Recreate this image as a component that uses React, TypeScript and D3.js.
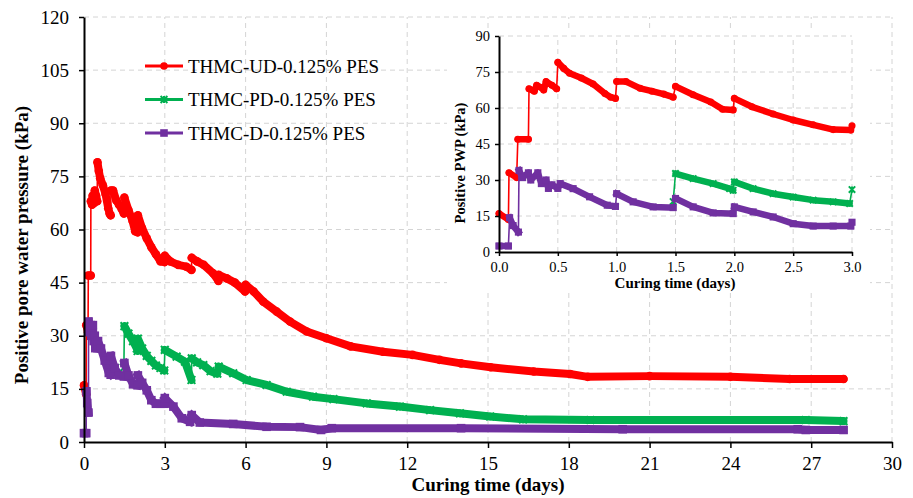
import React, { useEffect, useRef } from 'react';
import * as d3 from 'd3';

type Pt = [number, number];

// series names / colours / marker kinds
const seriesNames = ['THMC-UD-0.125% PES', 'THMC-PD-0.125% PES', 'THMC-D-0.125% PES'];
const seriesColors = ['#ff0000', '#00b050', '#7030a0'];
const seriesMarkers = ['circle', 'star', 'square'];

// tick labels
const mainXTicks = [0, 3, 6, 9, 12, 15, 18, 21, 24, 27, 30];
const mainYTicks = [0, 15, 30, 45, 60, 75, 90, 105, 120];
const insetXTicks = [0, 0.5, 1.0, 1.5, 2.0, 2.5, 3.0];
const insetYTicks = [0, 15, 30, 45, 60, 75, 90];

// each series is split where the reading jumps (thin line between pieces)
const udData: Pt[][] = [
  [[0, 16], [0.08, 13.5]],
  [[0.085, 33], [0.15, 31]],
  [[0.16, 47], [0.25, 47]],
  [[0.255, 68], [0.3, 67], [0.32, 69.5], [0.36, 68.5], [0.38, 67.5], [0.4, 71], [0.45, 69.5], [0.49, 68]],
  [[0.5, 79], [0.55, 76.5], [0.6, 74.5], [0.7, 72.5], [0.8, 70], [0.9, 66], [0.95, 64.5], [0.99, 64]],
  [[1.0, 71], [1.08, 71], [1.2, 68.2], [1.3, 67], [1.4, 65.8], [1.48, 64.5]],
  [[1.5, 69], [1.65, 65.5], [1.8, 62.5], [1.9, 59.5], [1.99, 59.2]],
  [[2.0, 64], [2.15, 60.5], [2.33, 57.5], [2.5, 55], [2.67, 53], [2.84, 51], [2.99, 50.8]],
  [[3.0, 52.6], [3.2, 51], [3.5, 50], [3.8, 49.5], [3.99, 48.6]],
  [[4.0, 52], [4.2, 51], [4.45, 50], [4.8, 47.6], [4.99, 45.5]],
  [[5.0, 47.2], [5.3, 46.2], [5.6, 45], [5.98, 42.5]],
  [[6.0, 44.4], [6.3, 42.5], [6.66, 39.6], [7.16, 36.8], [7.65, 34], [8.27, 31.2], [9.0, 29.3], [9.9, 27],
    [11.1, 25.5], [12.2, 24.6], [13.2, 23.2], [14, 22.2], [15.1, 21.1], [16.7, 19.9], [18.05, 19.2],
    [18.7, 18.4], [21, 18.6], [24, 18.4], [26.2, 17.8], [28.2, 17.8]],
];

const pdData: Pt[][] = [
  [[1.48, 21]],
  [[1.5, 32.7], [1.65, 30.6], [1.82, 28.5], [1.96, 26.4], [1.99, 25.7]],
  [[2.0, 29.2], [2.16, 26.4], [2.33, 24.3], [2.5, 22.9], [2.67, 21.6], [2.84, 20.9], [2.98, 20.2]],
  [[3.0, 26], [3.44, 24.1], [3.75, 22.7], [3.99, 17.5]],
  [[4.0, 23.6], [4.2, 22.5], [4.43, 21.7], [4.7, 20], [4.95, 19.3]],
  [[5.0, 21.3], [5.54, 19.4], [6.04, 17.5], [6.78, 16.1], [7.53, 14.2], [8.5, 12.8], [9.26, 12.1],
    [10.5, 10.9], [11.73, 10], [12.85, 9], [13.96, 8.1], [15.08, 7.2], [16.3, 6.4], [18.8, 6.2],
    [26.8, 6.2], [28.2, 5.9]],
];

const dData: Pt[][] = [
  [[0, 2.5], [0.08, 2.5]],
  [[0.09, 14.3], [0.12, 11], [0.165, 8.3]],
  [[0.17, 34], [0.2, 31], [0.25, 33], [0.27, 30], [0.33, 33], [0.36, 28.5], [0.4, 30], [0.42, 26.5],
    [0.45, 28], [0.5, 26.5], [0.52, 28.5], [0.63, 26.4], [0.77, 23], [0.92, 19.5], [0.99, 19]],
  [[1.0, 24.3], [1.14, 20.9], [1.31, 18.8], [1.48, 18.5]],
  [[1.5, 22.3], [1.65, 18.8], [1.82, 16.3], [1.99, 16]],
  [[2.0, 18.8], [2.16, 16.7], [2.33, 14.6], [2.5, 11.8], [2.67, 10.8], [2.84, 10.8], [2.99, 10.8]],
  [[3.0, 12.4], [3.32, 10], [3.63, 6.7], [3.94, 5.7]],
  [[4.0, 7.6], [4.3, 5.5], [5.54, 5.1], [6.78, 4.3], [8.02, 4.2], [8.8, 3.4], [9.2, 3.9], [14, 3.9],
    [20, 3.6], [26.5, 3.6], [26.8, 3.4], [28.2, 3.4]],
];

const allSeries = [udData, pdData, dData];

const FONT = '"Liberation Serif", "Times New Roman", serif';

const drawMarker = (g: any, cx: number, cy: number, color: string, kind: string, r: number) => {
  if (kind === 'circle') {
    g.append('circle').attr('cx', cx).attr('cy', cy).attr('r', r).attr('fill', color);
  } else if (kind === 'square') {
    g.append('rect').attr('x', cx - r).attr('y', cy - r).attr('width', r * 2).attr('height', r * 2).attr('fill', color);
  } else {
    const s = r * 0.9;
    g.append('path')
      .attr('d', `M${cx - s},${cy - s}L${cx + s},${cy + s}M${cx - s},${cy + s}L${cx + s},${cy - s}M${cx},${cy - s}L${cx},${cy + s}`)
      .attr('stroke', color)
      .attr('stroke-width', 2);
  }
};

const drawSeries = (g: any, sx: any, sy: any, segs: Pt[][], color: string, kind: string, band: number) => {
  const ln = d3.line<Pt>().x((d) => sx(d[0])).y((d) => sy(d[1]));
  const all = segs.flat();
  g.append('path').attr('d', ln(all)).attr('fill', 'none').attr('stroke', color).attr('stroke-width', 1.6);
  segs
    .filter((s) => s.length > 1)
    .forEach((s) => {
      g.append('path')
        .attr('d', ln(s))
        .attr('fill', 'none')
        .attr('stroke', color)
        .attr('stroke-width', band)
        .attr('stroke-linejoin', 'round')
        .attr('stroke-linecap', kind === 'square' ? 'square' : 'round');
    });
  const r = band / 2 + 0.3;
  all.forEach((p) => drawMarker(g, sx(p[0]), sy(p[1]), color, kind, r));
};

const styleAxis = (ax: any, size: number) => {
  ax.attr('font-family', FONT).attr('font-size', size);
  ax.select('.domain').attr('stroke', '#000').attr('stroke-width', 2);
  ax.selectAll('.tick line').attr('stroke', '#000').attr('stroke-width', 1.5);
  ax.selectAll('.tick text').attr('fill', '#000');
};

export default function App() {
  const svgRef = useRef<SVGSVGElement>(null);

  useEffect(() => {
    const svg = d3.select(svgRef.current);
    svg.selectAll('*').remove();

    // ---- main chart
    const x = d3.scaleLinear().domain([0, 30]).range([84, 892]);
    const y = d3.scaleLinear().domain([0, 120]).range([442, 17]);

    const grid = svg.append('g').attr('stroke', '#d4d4d4').attr('stroke-dasharray', '5,4').attr('stroke-width', 1);
    mainXTicks.slice(1).forEach((t) => {
      grid.append('line').attr('x1', x(t)).attr('x2', x(t)).attr('y1', y(0)).attr('y2', y(120));
    });
    mainYTicks.slice(1).forEach((v) => {
      grid.append('line').attr('x1', x(0)).attr('x2', x(30)).attr('y1', y(v)).attr('y2', y(v));
    });

    const main = svg.append('g');
    allSeries.forEach((s, i) => drawSeries(main, x, y, s, seriesColors[i], seriesMarkers[i], 8));

    const xAx = svg
      .append('g')
      .attr('transform', `translate(0,${y(0)})`)
      .call(d3.axisBottom(x).tickValues(mainXTicks).tickSize(6).tickSizeOuter(0).tickPadding(9));
    styleAxis(xAx, 19);
    const yAx = svg
      .append('g')
      .attr('transform', `translate(${x(0)},0)`)
      .call(d3.axisLeft(y).tickValues(mainYTicks).tickSize(5).tickSizeOuter(0).tickPadding(10));
    styleAxis(yAx, 19);

    svg
      .append('text')
      .attr('x', 488)
      .attr('y', 491)
      .attr('text-anchor', 'middle')
      .attr('font-family', FONT)
      .attr('font-weight', 'bold')
      .attr('font-size', 19)
      .text('Curing time (days)');
    svg
      .append('text')
      .attr('transform', 'translate(28,245) rotate(-90)')
      .attr('text-anchor', 'middle')
      .attr('font-family', FONT)
      .attr('font-weight', 'bold')
      .attr('font-size', 19)
      .text('Positive pore water pressure (kPa)');

    // ---- inset
    svg.append('rect').attr('x', 447).attr('y', 30).attr('width', 423).attr('height', 260).attr('fill', '#fff');
    const ix = d3.scaleLinear().domain([0, 3]).range([499, 852]);
    const iy = d3.scaleLinear().domain([0, 90]).range([252, 36]);

    const igrid = svg.append('g').attr('stroke', '#d4d4d4').attr('stroke-dasharray', '5,4').attr('stroke-width', 1);
    insetXTicks.slice(1).forEach((t) => {
      igrid.append('line').attr('x1', ix(t)).attr('x2', ix(t)).attr('y1', iy(0)).attr('y2', iy(90));
    });
    insetYTicks.slice(1).forEach((v) => {
      igrid.append('line').attr('x1', ix(0)).attr('x2', ix(3)).attr('y1', iy(v)).attr('y2', iy(v));
    });

    const inset = svg.append('g');
    allSeries.forEach((s, i) => {
      const cut = s.map((seg) => seg.filter((p) => p[0] <= 3)).filter((seg) => seg.length > 0);
      drawSeries(inset, ix, iy, cut, seriesColors[i], seriesMarkers[i], 6.5);
    });

    const ixAx = svg
      .append('g')
      .attr('transform', `translate(0,${iy(0)})`)
      .call(
        d3.axisBottom(ix).tickValues(insetXTicks).tickSize(4).tickSizeOuter(0).tickPadding(6).tickFormat(d3.format('.1f'))
      );
    styleAxis(ixAx, 14.5);
    const iyAx = svg
      .append('g')
      .attr('transform', `translate(${ix(0)},0)`)
      .call(d3.axisLeft(iy).tickValues(insetYTicks).tickSize(4).tickSizeOuter(0).tickPadding(5));
    styleAxis(iyAx, 14.5);

    svg
      .append('text')
      .attr('x', 675)
      .attr('y', 288)
      .attr('text-anchor', 'middle')
      .attr('font-family', FONT)
      .attr('font-weight', 'bold')
      .attr('font-size', 15)
      .text('Curing time (days)');
    svg
      .append('text')
      .attr('transform', 'translate(465,163) rotate(-90)')
      .attr('text-anchor', 'middle')
      .attr('font-family', FONT)
      .attr('font-weight', 'bold')
      .attr('font-size', 14.5)
      .text('Positive PWP (kPa)');

    // ---- legend
    const leg = svg.append('g');
    seriesNames.forEach((name, i) => {
      const ly = 66 + i * 33.5;
      leg.append('line').attr('x1', 145).attr('x2', 183).attr('y1', ly).attr('y2', ly)
        .attr('stroke', seriesColors[i]).attr('stroke-width', 3);
      drawMarker(leg, 164, ly, seriesColors[i], seriesMarkers[i], 3.8);
      leg.append('text')
        .attr('x', 188)
        .attr('y', ly)
        .attr('dy', '0.35em')
        .attr('font-family', FONT)
        .attr('font-size', 19)
        .text(name);
    });
  }, []);

  return (
    <div style={{ position: 'absolute', left: 0, top: 0 }}>
      <svg ref={svgRef} width={913} height={498} style={{ display: 'block', background: '#fff' }} />
    </div>
  );
}
